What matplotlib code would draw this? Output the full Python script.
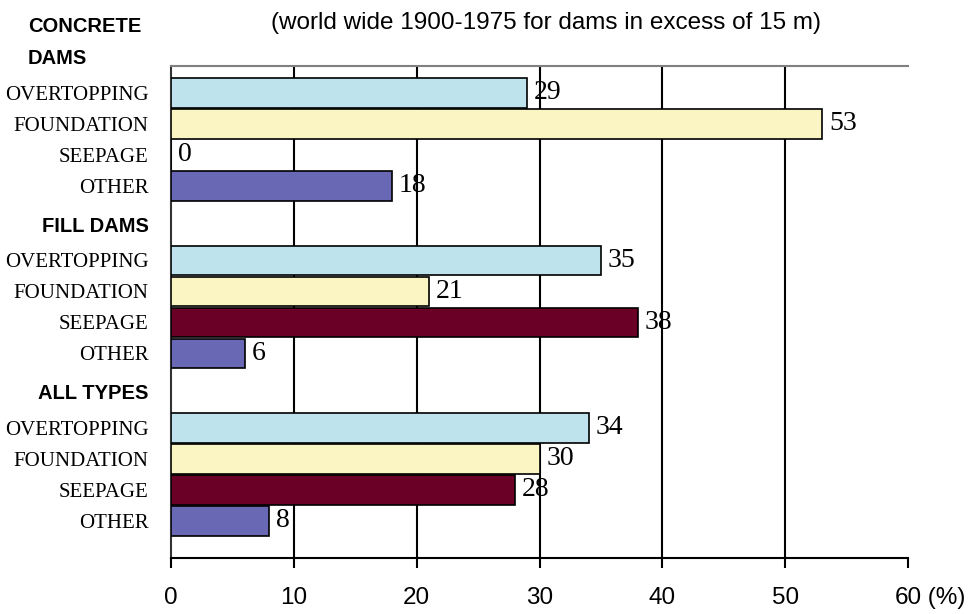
import matplotlib.pyplot as plt
import numpy as np

causes = ["OVERTOPPING", "FOUNDATION", "SEEPAGE", "OTHER"]
group_names = ["CONCRETE\nDAMS", "FILL DAMS", "ALL TYPES"]
concrete_dams = [29, 53, 0, 18]
fill_dams = [35, 21, 38, 6]
all_types = [34, 30, 28, 8]
x_ticks = [0, 10, 20, 30, 40, 50, 60]
title = "(world wide 1900-1975 for dams in excess of 15 m)"

colors = ["#bfe3ec", "#faf5c2", "#6b0026", "#6868b4"]
group_offsets = [0, 5.4, 10.8]

serif = "Liberation Serif"
sans = "Liberation Sans"

fig = plt.figure(figsize=(9.76, 6.14), dpi=100)
ax = fig.add_axes([171 / 976, 1 - 558 / 614, (908 - 171) / 976, (558 - 66) / 614])

all_pos = []
all_labels = []
for offset, values in zip(group_offsets, [concrete_dams, fill_dams, all_types]):
    pos = offset + np.arange(len(causes))
    ax.barh(pos, values, height=0.95, color=colors, edgecolor="black", linewidth=1.2, zorder=3)
    for y, v in zip(pos, values):
        ax.annotate(str(v), xy=(v, y), xytext=(5, 0), textcoords="offset points",
                    ha="left", va="center", fontsize=20, family=serif, zorder=4)
    all_pos.extend(pos)
    all_labels.extend(causes)

ax.set_xlim(0, 60)
ax.set_ylim(15.0, -0.87)
ax.vlines(x_ticks[1:-1], 15.0, -0.87, colors="black", linewidth=1.5, zorder=1)

ax.set_yticks(all_pos)
ax.set_yticklabels(all_labels, family=serif, fontsize=15)
ax.tick_params(axis="y", length=0, pad=16)

ax.set_xticks(x_ticks)
ax.set_xticklabels([str(t) for t in x_ticks], family=sans, fontsize=17.5)
ax.tick_params(axis="x", direction="out", length=7, width=1.5, pad=14)
ax.annotate(" (%)", xy=(60, 0), xycoords=("data", "axes fraction"), xytext=(9.5, -21),
            textcoords="offset points", ha="left", va="top", family=sans, fontsize=17.5,
            annotation_clip=False)

ax.spines["right"].set_visible(False)
ax.spines["top"].set_color("#808080")
ax.spines["top"].set_linewidth(1.5)
ax.spines["bottom"].set_linewidth(1.5)
ax.spines["left"].set_linewidth(1.5)
ax.spines["left"].set_color("#333333")

fig.text(28 / 976, 1 - 27 / 614, "CONCRETE", ha="left", va="center",
         family=sans, fontweight="bold", fontsize=14.5)
fig.text(28 / 976, 1 - 59 / 614, "DAMS", ha="left", va="center",
         family=sans, fontweight="bold", fontsize=14.5)
for name, offset in zip(group_names[1:], group_offsets[1:]):
    ax.text(-0.0305, offset - 1.1, name, transform=ax.get_yaxis_transform(),
            ha="right", va="center", family=sans, fontweight="bold", fontsize=14.5)

fig.text(546 / 976, 1 - 23 / 614, title, ha="center", va="center", family=sans, fontsize=17.5)

fig.savefig("out.png", dpi=100)
